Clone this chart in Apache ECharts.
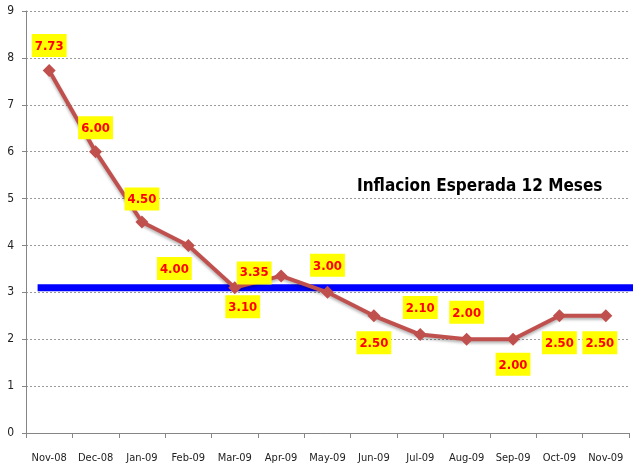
<!DOCTYPE html>
<html>
<head>
<meta charset="utf-8">
<script src="https://cdn.jsdelivr.net/npm/echarts@6/dist/echarts.min.js"></script>
<style>
  html, body { margin: 0; padding: 0; background: #fff; }
  #chart { width: 639px; height: 469px; }
</style>
</head>
<body>
<div id="chart"></div>
<script>
const months = ["Nov-08", "Dec-08", "Jan-09", "Feb-09", "Mar-09", "Apr-09", "May-09",
  "Jun-09", "Jul-09", "Aug-09", "Sep-09", "Oct-09", "Nov-09"];
const inflacion = [7.73, 6.0, 4.5, 4.0, 3.1, 3.35, 3.0, 2.5, 2.1, 2.0, 2.0, 2.5, 2.5];
const meta = 3.1;
const metaSpan = [0.25, 13.3];
const yTicks = [0, 1, 2, 3, 4, 5, 6, 7, 8, 9];

// where each value label sits relative to its point
const labelPlace = [
  { position: "top", offset: [0, -2] },
  { position: "top", offset: [0, -1] },
  { position: "top", offset: [0, 0] },
  { position: "bottom", offset: [-14, 0] },
  { position: "bottom", offset: [8, -4] },
  { position: "left", offset: [2, -3] },
  { position: "top", offset: [0, -4] },
  { position: "bottom", offset: [0, 4] },
  { position: "top", offset: [0, -4] },
  { position: "top", offset: [0, -4] },
  { position: "bottom", offset: [0, 2] },
  { position: "bottom", offset: [0, 4] },
  { position: "bottom", offset: [-6, 4] },
];

const font = "'DejaVu Sans Condensed', 'Liberation Sans Narrow', sans-serif";

const chart = echarts.init(document.getElementById("chart"));
chart.setOption({
  animation: false,
  textStyle: { fontFamily: font },
  grid: { left: 26, right: 10, top: 11, bottom: 36 },
  title: {
    text: "Inflacion Esperada 12 Meses",
    left: 352, top: 173,
    textStyle: { fontFamily: font, fontSize: 17, fontWeight: "bold", color: "#000" },
  },
  xAxis: [
    {
      type: "category",
      data: months,
      boundaryGap: true,
      axisLine: { lineStyle: { color: "#868686" } },
      axisTick: { show: true, interval: 0, alignWithLabel: false, length: 5, lineStyle: { color: "#868686" } },
      axisLabel: { interval: 0, color: "#222", fontSize: 11, margin: 20, fontFamily: font },
    },
    { type: "value", min: 0, max: 13, show: false },
  ],
  yAxis: {
    type: "value",
    min: 0, max: 9, interval: 1,
    axisLine: { show: true, lineStyle: { color: "#868686" } },
    axisTick: { show: true, length: 4, lineStyle: { color: "#868686" } },
    axisLabel: {
      color: "#222", fontSize: 12, margin: 12, fontFamily: font,
      formatter: (v) => (yTicks.includes(v) ? String(v) : ""),
    },
    splitLine: { lineStyle: { color: "#9a9a9a", type: [2, 2], width: 1 } },
  },
  series: [
    {
      type: "line",
      xAxisIndex: 1,
      data: metaSpan.map((x) => [x, meta]),
      symbol: "none",
      clip: false,
      lineStyle: { color: "#0000ff", width: 7 },
      z: 1,
    },
    {
      type: "line",
      data: inflacion.map((v, i) => ({
        value: v,
        label: labelPlace[i],
      })),
      symbol: "diamond",
      symbolSize: 13,
      lineStyle: { color: "#c0504d", width: 4, shadowColor: "rgba(0,0,0,0.3)", shadowBlur: 3, shadowOffsetY: 2 },
      itemStyle: { color: "#c0504d" },
      label: {
        show: true,
        formatter: (p) => p.value.toFixed(2),
        color: "#ff0000",
        fontWeight: "bold",
        fontSize: 13,
        fontFamily: font,
        backgroundColor: "#ffff00",
        padding: [6, 3, 4, 3],
      },
      z: 2,
    },
  ],
});
</script>
</body>
</html>
